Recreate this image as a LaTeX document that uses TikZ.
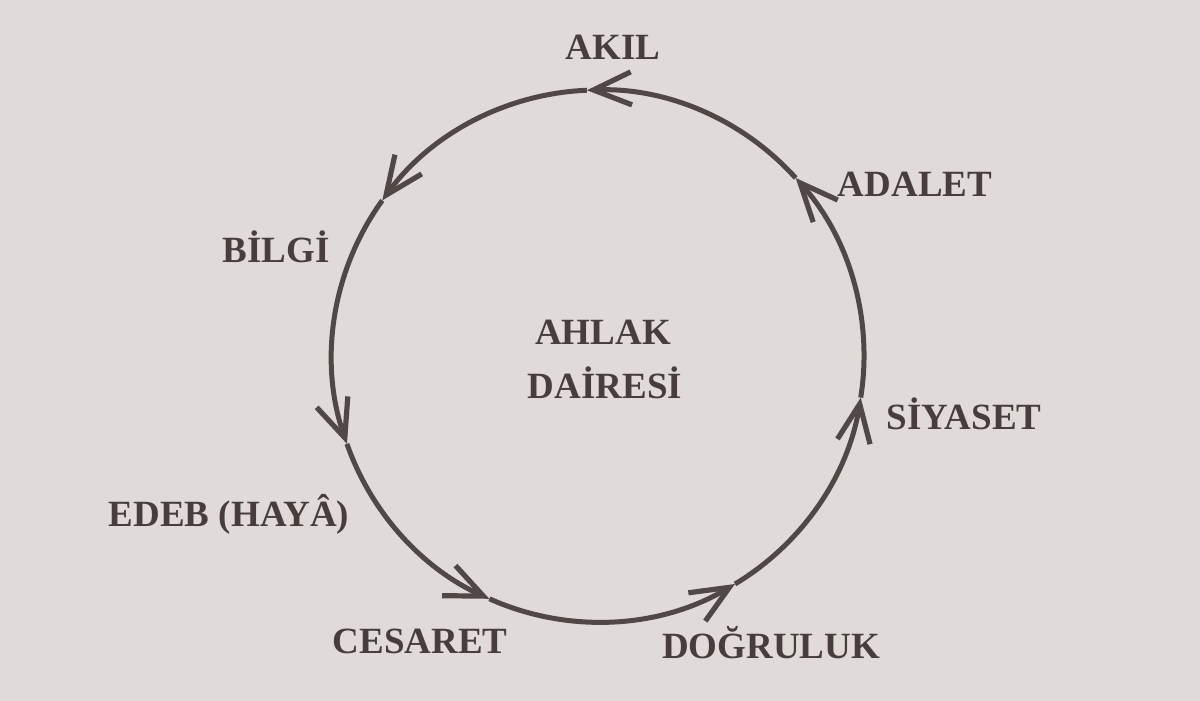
\documentclass[tikz,border=0pt]{standalone}
\usepackage{fontspec}
\setmainfont{Liberation Serif}
\usetikzlibrary{arrows.meta}
\definecolor{paper}{RGB}{224,219,216}
\definecolor{ink}{RGB}{70,61,60}
\definecolor{linecol}{RGB}{80,72,71}
\begin{document}
\begin{tikzpicture}[x=0.5pt,y=0.5pt,
  lbl/.style={anchor=base,inner sep=0pt,text=ink,font=\fontsize{18.5}{22}\selectfont\bfseries},
  cyc/.style={draw=linecol,line width=2.5pt,
    -{Straight Barb[length=19pt,width=16.5pt,line width=2.6pt]}}]
\useasboundingbox (0,0) rectangle (1200,701);
\fill[paper] (0,0) rectangle (1200,701);
\coordinate (c) at (598,345);
\path (c) ++(42:266) coordinate (pG);
\path (c) ++(92.4:266) coordinate (pA);
\path (c) ++(144.2:266) coordinate (pB);
\path (c) ++(199.3:266) coordinate (pC);
\path (c) ++(245.9:266) coordinate (pD);
\path (c) ++(301:266) coordinate (pE);
\path (c) ++(351:266) coordinate (pF);
\draw[cyc] (pG) arc[start angle=42,end angle=92.4,radius=133pt];
\draw[cyc] (pA) arc[start angle=92.4,end angle=144.2,radius=133pt];
\draw[cyc] (pB) arc[start angle=144.2,end angle=199.3,radius=133pt];
\draw[cyc] (pC) arc[start angle=199.3,end angle=245.9,radius=133pt];
\draw[cyc] (pD) arc[start angle=245.9,end angle=301,radius=133pt];
\draw[cyc] (pE) arc[start angle=301,end angle=351,radius=133pt];
\draw[cyc] (pF) arc[start angle=-9,end angle=42,radius=133pt];
\node[lbl] (akil) at (613,641) {AKIL};
\node[lbl] (adalet) at (915,504) {ADALET};
\node[lbl] (siyaset) at (964,271) {SİYASET};
\node[lbl] (bilgi) at (276,438) {BİLGİ};
\node[lbl] (edeb) at (229,174) {EDEB (HAYÂ)};
\node[lbl] (cesaret) at (420,47) {CESARET};
\node[lbl] (dogruluk) at (771,42) {DOĞRULUK};
\node[lbl] (ahlak) at (603,356) {AHLAK};
\node[lbl] (dairesi) at (605,302) {DAİRESİ};
\end{tikzpicture}
\end{document}
